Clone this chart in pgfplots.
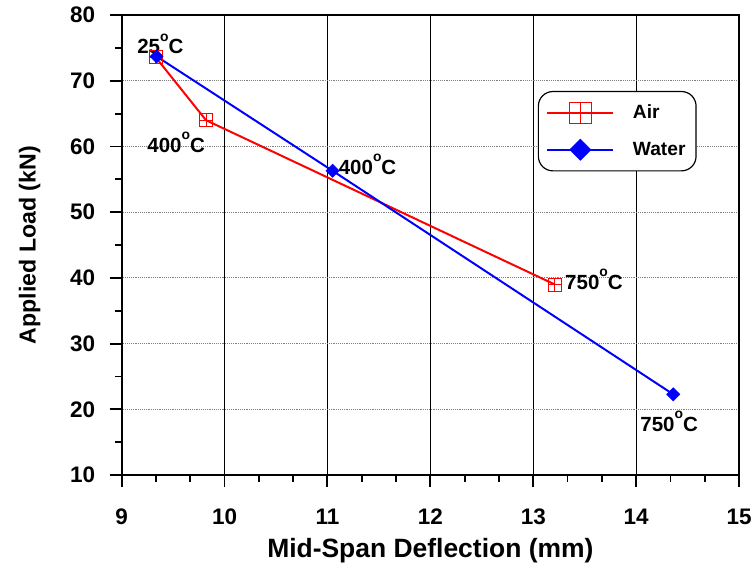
\documentclass[border={11pt 2pt 0pt 2pt}]{standalone}
\usepackage{fontspec}
\setmainfont{Liberation Sans}
\usepackage{pgfplots}
\pgfplotsset{compat=1.18}

% open square with a cross inside
\pgfdeclareplotmark{sqplus}{%
  \pgfpathrectangle{\pgfqpoint{-\pgfplotmarksize}{-\pgfplotmarksize}}{\pgfqpoint{2\pgfplotmarksize}{2\pgfplotmarksize}}%
  \pgfpathmoveto{\pgfqpoint{-\pgfplotmarksize}{0pt}}\pgfpathlineto{\pgfqpoint{\pgfplotmarksize}{0pt}}%
  \pgfpathmoveto{\pgfqpoint{0pt}{-\pgfplotmarksize}}\pgfpathlineto{\pgfqpoint{0pt}{\pgfplotmarksize}}%
  \pgfusepathqstroke}
% filled diamond, as wide as high
\pgfdeclareplotmark{dia}{%
  \pgfpathmoveto{\pgfqpoint{0pt}{\pgfplotmarksize}}%
  \pgfpathlineto{\pgfqpoint{\pgfplotmarksize}{0pt}}%
  \pgfpathlineto{\pgfqpoint{0pt}{-\pgfplotmarksize}}%
  \pgfpathlineto{\pgfqpoint{-\pgfplotmarksize}{0pt}}%
  \pgfpathclose\pgfusepathqfillstroke}

\newcommand{\degC}{\raisebox{9.5pt}{\fontsize{10.5}{10.5}\selectfont o}C}

\begin{document}
\begin{tikzpicture}
\begin{axis}[
  scale only axis, width=467pt, height=348pt,
  xmin=9, xmax=15, ymin=10, ymax=80,
  xtick={9,10,...,15}, ytick={10,20,...,80},
  minor x tick num=2, minor y tick num=1,
  tick align=outside, tick pos=left,
  major tick length=9pt, minor tick length=5pt,
  every tick/.style={black, line width=1.4pt},
  axis line style={line width=1.5pt},
  xmajorgrids, ymajorgrids,
  x grid style={black, line width=0.7pt},
  y grid style={gray, densely dotted, line width=0.7pt},
  /pgf/number format/assume math mode=true,
  ticklabel style={font=\fontsize{17}{17}\selectfont\bfseries},
  xticklabel style={yshift=-13pt},
  yticklabel style={xshift=-7.5pt},
  xlabel={Mid-Span Deflection (mm)}, ylabel={Applied Load (kN)},
  xlabel style={font=\fontsize{20}{20}\selectfont\bfseries, yshift=-3pt},
  ylabel style={font=\fontsize{17.5}{17.5}\selectfont\bfseries},
  ylabel shift=15.5pt,
  legend cell align=left,
  legend image code/.code={%
    \draw[#1, mark size=8pt, mark repeat=2, mark phase=2]
      plot coordinates {(0pt,0pt) (25pt,0pt) (50pt,0pt)};},
  legend style={at={(0.674,0.835)}, anchor=north west, draw=black,
    rounded corners=11pt, line width=0.9pt,
    font=\fontsize{14.5}{14.5}\selectfont\bfseries,
    inner xsep=6pt, inner ysep=8pt, row sep=12pt,
    /tikz/every odd column/.style={column sep=12pt}},
]
\addplot[red, line width=1.5pt, mark=sqplus, mark size=4.9pt,
  mark options={line width=0.6pt}] coordinates {
  (9.33,73.6) (9.82,64.0) (13.21,39.0)
};
\addlegendentry{Air}
\addplot[blue, line width=1.5pt, mark=dia, mark size=5pt,
  mark options={line width=0.4pt}] coordinates {
  (9.34,73.7) (11.05,56.3) (14.36,22.3)
};
\addlegendentry{Water}

\begin{scope}[every node/.style={font=\fontsize{15.5}{15.5}\selectfont\bfseries, inner sep=0pt}]
\node at (axis cs:9.377,75.6) {25\degC};
\node at (axis cs:9.53,60.6) {400\degC};
\node at (axis cs:11.39,57.3) {400\degC};
\node at (axis cs:13.59,39.8) {750\degC};
\node at (axis cs:14.32,18.2) {750\degC};
\end{scope}
\end{axis}
\end{tikzpicture}
\end{document}
